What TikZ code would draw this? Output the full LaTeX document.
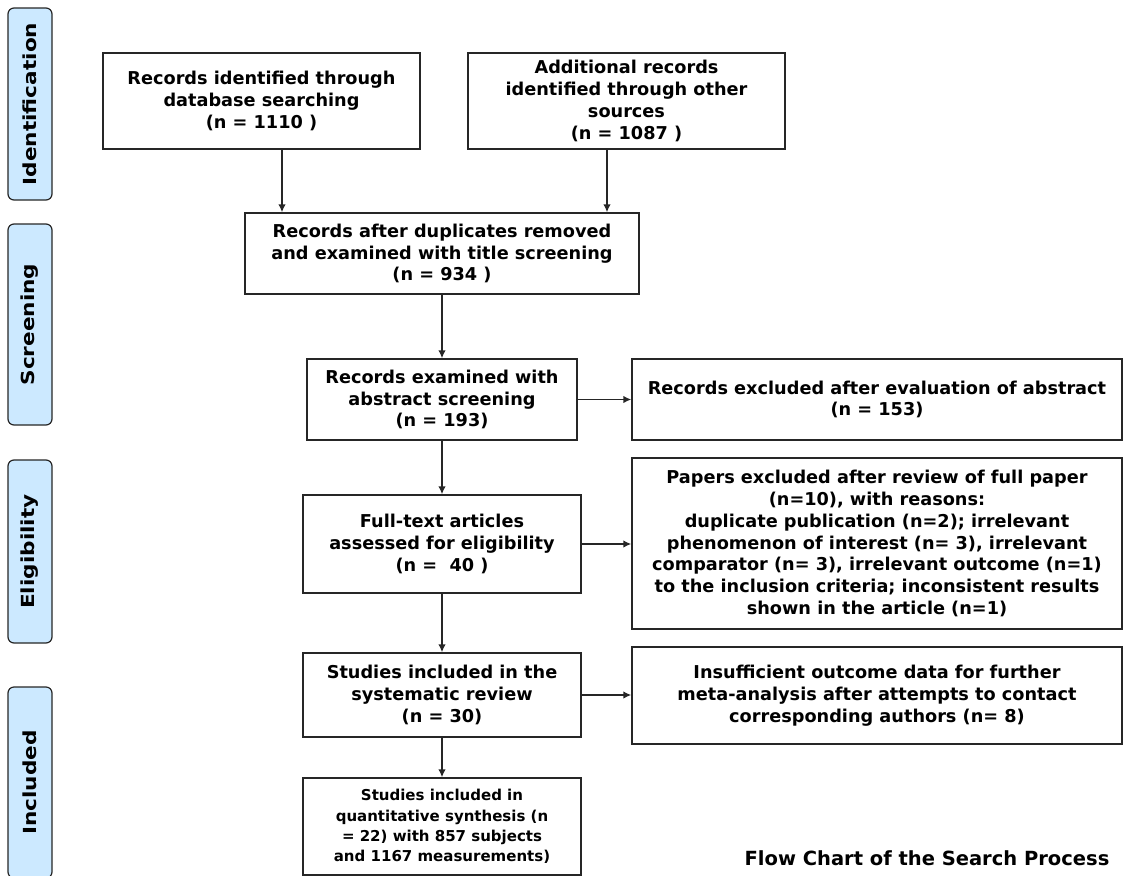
\documentclass[tikz,border=0pt]{standalone}
\usepackage{fontspec}
\setmainfont{DejaVu Sans}
\newfontfamily\phasefont[FakeStretch=1.2]{DejaVu Sans}
\usetikzlibrary{arrows.meta}
\definecolor{phaseblue}{HTML}{CCE9FF}
\definecolor{edge}{HTML}{262626}
\begin{document}
\begin{tikzpicture}[x=1pt,y=-1pt,
  box/.style={draw=edge, line width=1.4pt, fill=white, align=center, inner sep=0pt,
              font=\bfseries\fontsize{17.7}{21.8}\selectfont},
  smallbox/.style={box, font=\bfseries\fontsize{15}{20.4}\selectfont},
  phase/.style={draw=edge, line width=1.2pt, fill=phaseblue, rounded corners=6pt,
                rotate=90, minimum height=44pt, inner sep=0pt,
                font=\phasefont\bfseries\fontsize{18}{20}\selectfont},
  arr/.style={-{Latex[length=8pt,width=7.5pt]}, line width=1.4pt, draw=edge}]
\useasboundingbox (0,0) rectangle (1144,876);

% phase labels
\node[phase, minimum width=192pt] (p1) at (30,104) {Identification};
\node[phase, minimum width=201pt] (p2) at (30,324.5) {Screening};
\node[phase, minimum width=183pt] (p3) at (30,551.5) {Eligibility};
\node[phase, minimum width=191pt] (p4) at (30,782.5) {Included};

% boxes
\node[box, minimum width=317pt, minimum height=96pt] (A) at (261.5,101)
  {Records identified through\\database searching\\(n = 1110 )};
\node[box, minimum width=317pt, minimum height=96pt] (B) at (626.5,101)
  {Additional records\\identified through other\\sources\\(n = 1087 )};
\node[box, minimum width=394pt, minimum height=81pt] (C) at (442,253.5)
  {Records after duplicates removed\\and examined with title screening\\(n = 934 )};
\node[box, minimum width=270pt, minimum height=81pt] (D) at (442,399.5)
  {Records examined with\\abstract screening\\(n = 193)};
\node[box, minimum width=490pt, minimum height=81pt] (E) at (877,399.5)
  {Records excluded after evaluation of abstract\\(n = 153)};
\node[box, minimum width=278pt, minimum height=98pt] (F) at (442,544)
  {Full-text articles\\assessed for eligibility\\(n = \ 40 )};
\node[box, minimum width=490pt, minimum height=171pt] (G) at (877,543.5)
  {Papers excluded after review of full paper\\(n=10), with reasons:\\duplicate publication (n=2); irrelevant\\phenomenon of interest (n= 3), irrelevant\\comparator (n= 3), irrelevant outcome (n=1)\\to the inclusion criteria; inconsistent results\\shown in the article (n=1)};
\node[box, minimum width=278pt, minimum height=84pt] (I) at (442,695)
  {Studies included in the\\systematic review\\(n = 30)};
\node[box, minimum width=490pt, minimum height=97pt] (H) at (877,695.5)
  {Insufficient outcome data for further\\meta-analysis after attempts to contact\\corresponding authors (n= 8)};
\node[smallbox, minimum width=278pt, minimum height=97pt] (J) at (442,826.5)
  {Studies included in\\quantitative synthesis (n\\= 22) with 857 subjects\\and 1167 measurements)};

\node[font=\bfseries\fontsize{19.5}{22}\selectfont, anchor=center] (title) at (927,858)
  {Flow Chart of the Search Process};

% connectors
\draw[arr] ([xshift=20.5pt]A.south) -- ([xshift=20.5pt]A.south |- C.north);
\draw[arr] ([xshift=-19.5pt]B.south) -- ([xshift=-19.5pt]B.south |- C.north);
\draw[arr] (C.south) -- (D.north);
\draw[arr] (D.east) -- (D.east -| E.west);
\draw[arr] (D.south) -- (F.north);
\draw[arr] (F.east) -- (F.east -| G.west);
\draw[arr] (F.south) -- (I.north);
\draw[arr] (I.east) -- (I.east -| H.west);
\draw[arr] (I.south) -- (J.north);
\end{tikzpicture}
\end{document}
